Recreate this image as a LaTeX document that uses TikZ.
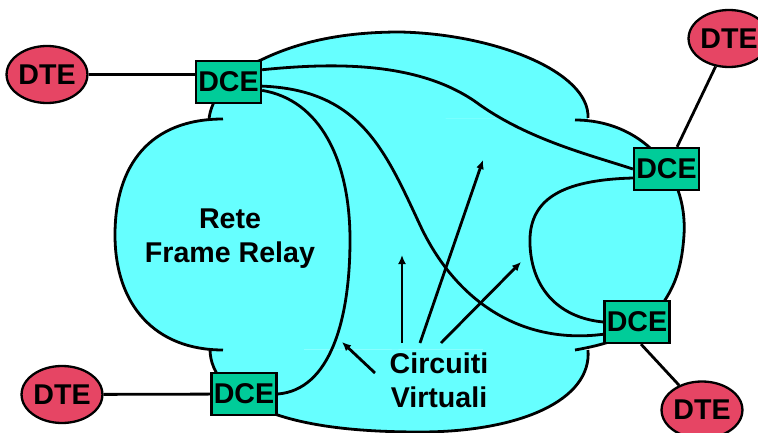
\documentclass[tikz,border=0pt]{standalone}
\usepackage{fontspec}
\setmainfont{Liberation Sans}
\usetikzlibrary{arrows.meta,shapes.geometric}
\definecolor{cloudcyan}{RGB}{102,255,255}
\definecolor{dcegreen}{RGB}{0,204,153}
\definecolor{dtered}{RGB}{230,69,100}
% lobes of the network cloud (pixel coordinates, y downwards)
\newcommand{\lobeT}{(209,120) .. controls (210,100) and (230,72) .. (261,60) .. controls (300,41) and (345,32) .. (400,32) .. controls (495,34) and (590,72) .. (588,118)}
\newcommand{\lobeR}{(575,120) .. controls (640,120) and (688,170) .. (684,235) .. controls (682,265) and (676,283) .. (665,300) .. controls (645,332) and (615,343) .. (575,350)}
\newcommand{\lobeB}{(588,350) .. controls (592,400) and (520,432) .. (420,432) .. controls (330,432) and (260,420) .. (225,385) .. controls (215,373) and (210,362) .. (210,349)}
\newcommand{\lobeL}{(223,350) .. controls (155,350) and (115,305) .. (115,235) .. controls (115,165) and (150,119) .. (223,119)}
\begin{document}
\begin{tikzpicture}[x=1pt,y=-1pt]
\tikzstyle{every node}=[font=\bfseries\fontsize{28.6}{34}\selectfont]
\tikzstyle{dce}=[rectangle, draw, fill=dcegreen, line width=2.3pt, minimum width=65pt, minimum height=42pt, inner sep=0pt]
\tikzstyle{dte}=[ellipse, draw, fill=dtered, line width=2.3pt, minimum width=72pt, minimum height=57pt, inner sep=0pt]
\tikzstyle{label}=[align=center, inner sep=0pt]
\tikzstyle{cloudline}=[line width=2.8pt]
\tikzstyle{wire}=[line width=2.8pt]
\tikzstyle{vcircuit}=[line width=2.8pt]
\tikzstyle{pointer}=[line width=2.8pt, -{Latex[length=9pt,width=8pt]}]
\useasboundingbox (0,0) rectangle (758,433);
% cloud
\fill[cloudcyan] \lobeT -- cycle;
\fill[cloudcyan] \lobeR -- cycle;
\fill[cloudcyan] \lobeB -- cycle;
\fill[cloudcyan] \lobeL -- cycle;
\fill[cloudcyan] (223,119) -- (588,118) -- (575,350) -- (210,349) -- cycle;
\draw[cloudline] \lobeT;
\draw[cloudline] \lobeR;
\draw[cloudline] \lobeB;
\draw[cloudline] \lobeL;
% devices
\node[dce] (dce1) at (228.5,82) {DCE};
\node[dce] (dce2) at (666.5,169) {DCE};
\node[dce] (dce3) at (637,322) {DCE};
\node[dce] (dce4) at (244,394) {DCE};
\node[dte] (dte1) at (47,74.5) {DTE};
\node[dte] (dte2) at (729,38.5) {DTE};
\node[dte] (dte3) at (702,410) {DTE};
\node[dte] (dte4) at (62,394.5) {DTE};
\node[label] (rete) at (230,239) {Rete\\Frame Relay};
\node[label] (cvlabel) at (439,380) {Circuiti\\Virtuali};
% access lines
\draw[wire] (dte1) -- (dte1 -| dce1.west);
\draw[wire] (dte2) -- (dce2);
\draw[wire] ([xshift=4pt]dce3.south) -- (dte3);
\draw[wire] (dte4) -- (dce4);
% virtual circuits
\draw[vcircuit] (dce1.20) .. controls (330,63) and (420,60) .. (480,105) .. controls (530,140) and (590,155) .. (dce2.west);
\draw[vcircuit] (dce1.-7) .. controls (360,90) and (385,150) .. (420,225) .. controls (455,300) and (520,345) .. (dce3.200);
\draw[vcircuit] (dce1.-14) .. controls (320,100) and (350,160) .. (350,240) .. controls (350,320) and (330,390) .. (dce4.east);
\draw[vcircuit] (dce2.195) .. controls (560,180) and (528,200) .. (530,245) .. controls (532,290) and (560,318) .. (dce3.west);
% pointers
\coordinate (tailA) at (402,343);
\coordinate (tailB) at (420,343);
\coordinate (tailC) at (441,343);
\coordinate (tailD) at (375,373);
\coordinate (tipA) at (402,255);
\coordinate (tipB) at (483,160);
\coordinate (tipC) at (521,262);
\coordinate (tipD) at (342,342);
\draw[pointer] (tailA) -- (tipA);
\draw[pointer] (tailB) -- (tipB);
\draw[pointer] (tailC) -- (tipC);
\draw[pointer] (tailD) -- (tipD);
\end{tikzpicture}
\end{document}
